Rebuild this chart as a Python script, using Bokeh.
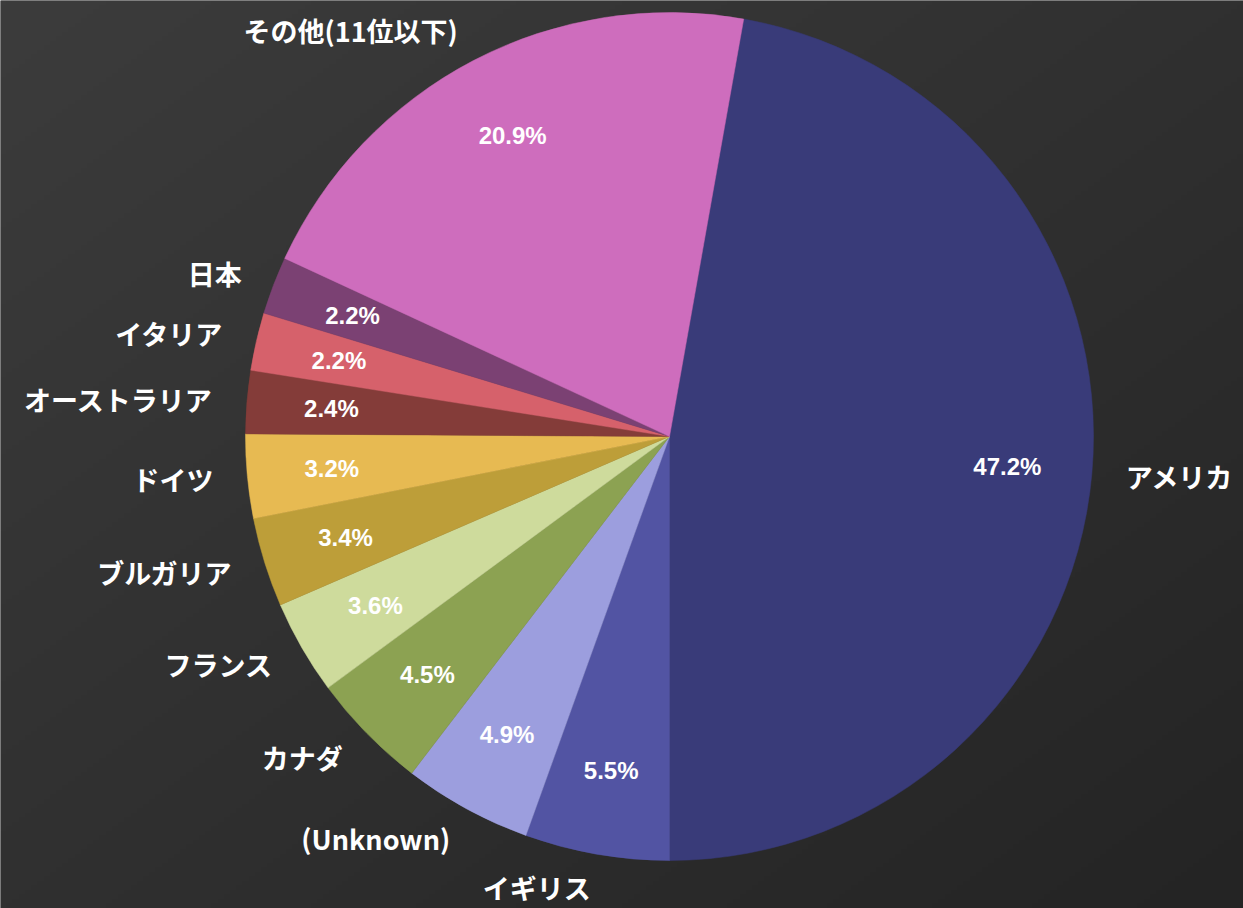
import numpy as np
from bokeh.plotting import figure
from bokeh.models import Range1d, ColumnDataSource
from bokeh.core.properties import value
from bokeh.embed import file_html
from bokeh.resources import INLINE

# ---- data ----
categories = ["アメリカ", "イギリス", "(Unknown)", "カナダ", "フランス", "ブルガリア",
              "ドイツ", "オーストラリア", "イタリア", "日本", "その他(11位以下)"]
shares = [47.2, 5.5, 4.9, 4.5, 3.6, 3.4, 3.2, 2.4, 2.2, 2.2, 20.9]
colors = ["#393b79", "#5254a3", "#9c9ede", "#8ca252", "#cedb9c", "#bd9e39",
          "#e7ba52", "#843c39", "#d6616b", "#7b4173", "#ce6dbd"]

W, H = 1243, 908
CX, CY = 669, H - 436
R = 424

p = figure(width=W, height=H, output_backend="svg", toolbar_location=None,
           x_range=Range1d(0, W), y_range=Range1d(0, H), min_border=0)
p.axis.visible = False
p.grid.visible = False
p.outline_line_color = None
p.background_fill_color = "#303030"
p.border_fill_color = "#303030"

# background diagonal gradient
n = 200
gx = np.linspace(0, 1, n)[None, :]
gy = np.linspace(1, 0, n)[:, None]  # row 0 = bottom
t = (gx + gy) / 2
lv = (0x3c - (0x3c - 0x24) * t).astype(np.uint32)
img = (255 << 24) | (lv << 16) | (lv << 8) | lv
p.image_rgba(image=[img.astype(np.uint32)], x=0, y=0, dw=W, dh=H)

# angles (clockwise from top), America ends at 6 o'clock
vals = np.array(shares)
fr = vals / vals.sum()
offset = 180 - 360 * fr[0]
cum = np.concatenate([[0], np.cumsum(fr)]) * 360 + offset
th1 = np.radians(cum[:-1])
th2 = np.radians(cum[1:])
start = np.pi / 2 - th2
end = np.pi / 2 - th1
mid = (th1 + th2) / 2

src = ColumnDataSource(dict(start=start, end=end, color=colors))
p.wedge(x=CX, y=CY, radius=R, start_angle="start", end_angle="end",
        fill_color="color", line_color="color", line_width=0.5, source=src)

rp = 0.8 * R
pct = ColumnDataSource(dict(x=CX + rp * np.sin(mid), y=CY + rp * np.cos(mid),
                            t=[f"{v:.1f}%" for v in shares]))
p.text(x="x", y="y", text="t", source=pct, text_color="white",
       text_font=value("Liberation Sans"), text_font_style="bold",
       text_font_size="24px", text_align="center", text_baseline="middle")

rl = 1.08 * R
lx = CX + rl * np.sin(mid)
ly = CY + rl * np.cos(mid)
align = ["left" if np.sin(m) >= 0 else "right" for m in mid]
lab = ColumnDataSource(dict(x=lx, y=ly, t=categories, a=align))
p.text(x="x", y="y", text="t", source=lab, text_color="white",
       text_font=value("Noto Sans CJK JP"), text_font_style="bold",
       text_font_size="27px", text_align="a", text_baseline="middle")

open("out.html", "w").write(file_html(p, INLINE))
